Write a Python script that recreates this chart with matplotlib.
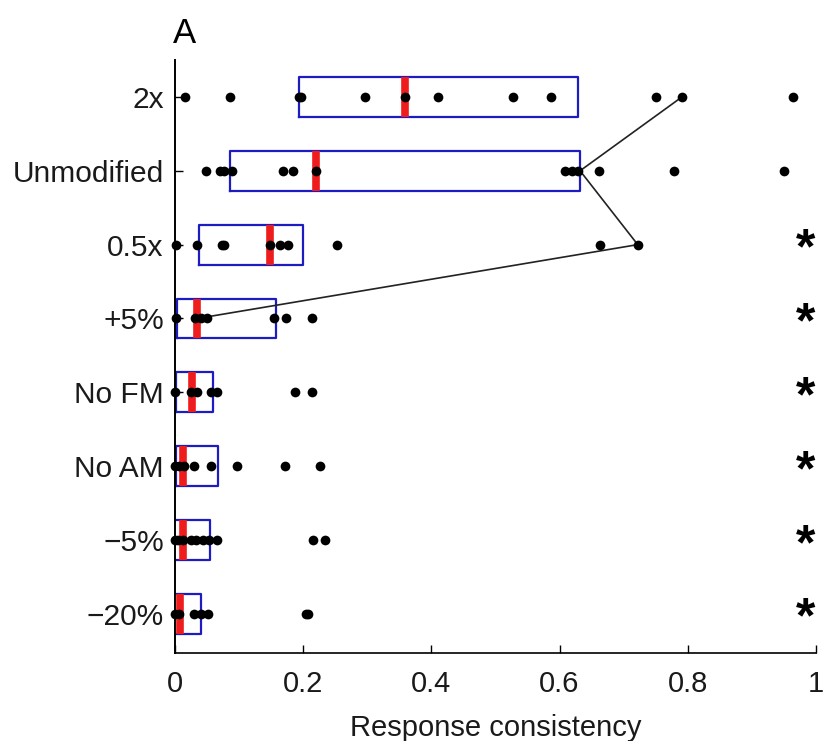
import matplotlib
matplotlib.use("Agg")
import matplotlib.pyplot as plt
import numpy as np

plt.rcParams['font.family'] = ['Liberation Sans', 'DejaVu Sans']

categories = ["2x", "Unmodified", "0.5x", "+5%", "No FM", "No AM", "\u22125%", "\u221220%"]

points = [
    [0.016, 0.086, 0.194, 0.197, 0.297, 0.359, 0.41, 0.527, 0.586, 0.75, 0.791, 0.964],
    [0.049, 0.070, 0.076, 0.089, 0.168, 0.184, 0.220, 0.609, 0.619, 0.629, 0.661, 0.778, 0.95],
    [0.001, 0.034, 0.073, 0.076, 0.149, 0.164, 0.177, 0.253, 0.663, 0.722],
    [0.001, 0.031, 0.040, 0.050, 0.155, 0.174, 0.214],
    [0.0, 0.025, 0.035, 0.056, 0.066, 0.188, 0.214],
    [0.0, 0.007, 0.014, 0.030, 0.056, 0.097, 0.171, 0.226],
    [0.0, 0.004, 0.012, 0.025, 0.033, 0.043, 0.053, 0.066, 0.216, 0.234],
    [0.0, 0.007, 0.030, 0.040, 0.051, 0.204, 0.208],
]
q1 = [0.194, 0.086, 0.037, 0.003, 0.002, 0.002, -0.004, -0.004]
median = [0.359, 0.220, 0.149, 0.034, 0.026, 0.012, 0.012, 0.008]
q3 = [0.629, 0.632, 0.199, 0.158, 0.059, 0.067, 0.055, 0.041]
# example subject traced across the first four conditions
example_subject = [0.791, 0.632, 0.722, 0.035]
significant = [False, False, True, True, True, True, True, True]

n = len(categories)
ypos = np.arange(n, 0, -1)  # top category at highest y

fig = plt.figure(figsize=(8.23, 7.41), dpi=100)
ax = fig.add_axes([0.2126, 0.1188, 0.7788, 0.8002])

stats = []
for i in range(n):
    stats.append(dict(med=median[i], q1=q1[i], q3=q3[i],
                      whislo=q1[i], whishi=q3[i], fliers=[]))
ax.bxp(stats, positions=ypos, vert=False, widths=0.54, showcaps=False,
       showfliers=False,
       boxprops=dict(color='#1c1cc0', linewidth=1.6),
       whiskerprops=dict(color='#1c1cc0', linewidth=1.6),
       medianprops=dict(color='#ee1c1c', linewidth=5.5, solid_capstyle='butt'),
       zorder=2)

ax.plot(example_subject, ypos[:len(example_subject)], color='#222222',
        linewidth=1.2, zorder=3)

for i in range(n):
    ax.plot(points[i], [ypos[i]] * len(points[i]), 'o', color='black',
            markersize=7, zorder=4, markeredgewidth=0, clip_on=False)

for i in range(n):
    if significant[i]:
        ax.text(0.9845, ypos[i] - 0.08, '*', fontsize=36, ha='center', va='center',
                fontweight='bold')

ax.set_xlim(0, 1)
ax.set_ylim(0.47, 8.5)
ax.set_yticks(ypos)
ax.set_yticklabels(categories, fontsize=21.5, color='#1a1a1a')
ax.set_xticks([0, 0.2, 0.4, 0.6, 0.8, 1])
ax.set_xticklabels(['0', '0.2', '0.4', '0.6', '0.8', '1'], fontsize=21, color='#1a1a1a')
ax.tick_params(axis='both', direction='in', length=6, width=1)
ax.tick_params(axis='x', pad=12)
ax.tick_params(axis='y', pad=8)
ax.set_xlabel('Response consistency', fontsize=21, labelpad=12, color='#1a1a1a')
for s in ['top', 'right']:
    ax.spines[s].set_visible(False)
ax.spines['left'].set_linewidth(1.4)
ax.spines['bottom'].set_linewidth(1.2)
ax.spines['left'].set_zorder(5)

fig.text(0.224, 0.955, 'A', fontsize=25, ha='center', va='center')

fig.savefig('out.png', dpi=100)
